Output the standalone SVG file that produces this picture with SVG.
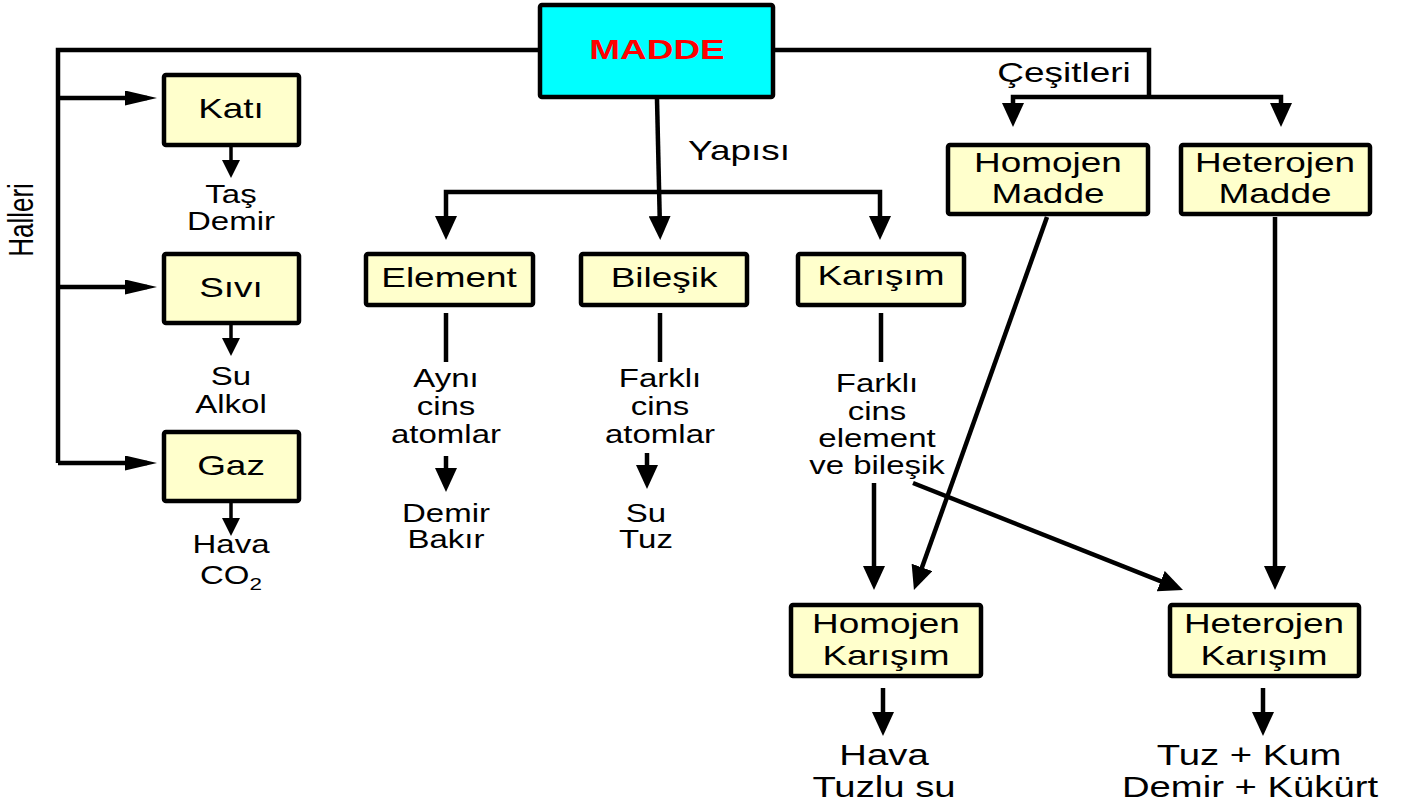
<svg xmlns="http://www.w3.org/2000/svg" width="1413" height="812" viewBox="0 0 1413 812">
<defs>
<style>
.box{fill:#FFFFCC;stroke:#000;stroke-width:4.5}
.main{fill:#00FFFF;stroke:#000;stroke-width:4.5}
.ln{fill:none;stroke:#000;stroke-width:4.5}
.sl{fill:none;stroke:#000;stroke-width:3.5}
text{font-family:"Liberation Sans",Arial,sans-serif;fill:#000;text-anchor:middle}
.bt{font-size:28px}
.st{font-size:25px}
.lt{font-size:29px}
.mt{font-size:28px;font-weight:bold;fill:#FF0000}
</style>
<marker id="ah" markerUnits="userSpaceOnUse" markerWidth="24" markerHeight="22" refX="14" refY="11" orient="auto"><path d="M0,0 L24,11 L0,22 Z" fill="#000"/></marker>
<marker id="ahL" markerUnits="userSpaceOnUse" markerWidth="32" markerHeight="16" refX="22" refY="7.5" orient="auto"><path d="M0,0 L32,7.5 L0,15 Z" fill="#000"/></marker>
<marker id="ahS" markerUnits="userSpaceOnUse" markerWidth="18" markerHeight="18" refX="11" refY="9" orient="auto"><path d="M0,0 L18,9 L0,18 Z" fill="#000"/></marker>
</defs>
<rect width="1413" height="812" fill="#fff"/>
<g id="connectors">
<path class="ln" d="M540 50 H58 V463"/>
<path class="ln" d="M58 98 H147" marker-end="url(#ahL)"/>
<path class="ln" d="M58 287 H147" marker-end="url(#ahL)"/>
<path class="ln" d="M58 463 H147" marker-end="url(#ahL)"/>
<path class="ln" d="M775 50 H1149 V97"/>
<path class="ln" d="M1149 97 H1013 V117" marker-end="url(#ah)"/>
<path class="ln" d="M1149 97 H1281 V117" marker-end="url(#ah)"/>
<path class="ln" d="M657 99 L660 230" marker-end="url(#ah)"/>
<path class="ln" d="M660 192 H446 V230" marker-end="url(#ah)"/>
<path class="ln" d="M660 192 H880 V230" marker-end="url(#ah)"/>
<path class="ln" d="M446 313 V362"/>
<path class="ln" d="M660 313 V362"/>
<path class="ln" d="M881 313 V362"/>
<path class="ln" d="M446 456 V482" marker-end="url(#ah)"/>
<path class="ln" d="M647 453 V479" marker-end="url(#ah)"/>
<path class="sl" d="M231 147 V171" marker-end="url(#ahS)"/>
<path class="sl" d="M231 325 V349" marker-end="url(#ahS)"/>
<path class="sl" d="M231 503 V529" marker-end="url(#ahS)"/>
<path class="ln" d="M874 483 V580" marker-end="url(#ah)"/>
<path class="ln" d="M1047 217 L917.3 580.6" marker-end="url(#ah)"/>
<path class="ln" d="M913 483 L1173.7 586.3" marker-end="url(#ah)"/>
<path class="ln" d="M1275 217 V580" marker-end="url(#ah)"/>
<path class="ln" d="M883 688 V726" marker-end="url(#ah)"/>
<path class="ln" d="M1263 688 V726" marker-end="url(#ah)"/>
</g>
<g id="madde">
<rect class="main" x="540" y="5" width="233" height="92" rx="2"/>
<text class="mt" y="59" transform="translate(657 0) scale(1.32 1)">MADDE</text>
</g>
<g id="halleri">
<text class="st" font-size="26" transform="translate(33 220) scale(1.32 1) rotate(-90)" style="font-size:26px">Halleri</text>
</g>
<g id="yapisi"><text class="bt" y="160" transform="translate(739 0) scale(1.32 1)">Yapısı</text></g>
<g id="cesitleri"><text class="bt" y="82" transform="translate(1064 0) scale(1.32 1)">Çeşitleri</text></g>
<g id="kati">
<rect class="box" x="164" y="75" width="135" height="70" rx="2"/>
<text class="bt" y="118" transform="translate(231 0) scale(1.32 1)">Katı</text>
</g>
<g id="kati-ex">
<text class="st" y="203" transform="translate(231 0) scale(1.32 1)">Taş</text>
<text class="st" y="230" transform="translate(231 0) scale(1.32 1)">Demir</text>
</g>
<g id="sivi">
<rect class="box" x="164" y="254" width="135" height="69" rx="2"/>
<text class="bt" y="297" transform="translate(231 0) scale(1.32 1)">Sıvı</text>
</g>
<g id="sivi-ex">
<text class="st" y="385" transform="translate(231 0) scale(1.32 1)">Su</text>
<text class="st" y="413" transform="translate(231 0) scale(1.32 1)">Alkol</text>
</g>
<g id="gaz">
<rect class="box" x="164" y="432" width="135" height="69" rx="2"/>
<text class="bt" y="475" transform="translate(231 0) scale(1.32 1)">Gaz</text>
</g>
<g id="gaz-ex">
<text class="st" y="553" transform="translate(231 0) scale(1.32 1)">Hava</text>
<text class="st" y="584" transform="translate(231 0) scale(1.32 1)">CO<tspan style="font-size:17px" dy="6">2</tspan></text>
</g>
<g id="element">
<rect class="box" x="366" y="254" width="167" height="51" rx="2"/>
<text class="bt" y="287" transform="translate(449 0) scale(1.32 1)">Element</text>
</g>
<g id="element-desc">
<text class="st" y="387" transform="translate(446 0) scale(1.32 1)">Aynı</text>
<text class="st" y="415" transform="translate(446 0) scale(1.32 1)">cins</text>
<text class="st" y="443" transform="translate(446 0) scale(1.32 1)">atomlar</text>
<text class="st" y="522" transform="translate(446 0) scale(1.32 1)">Demir</text>
<text class="st" y="548" transform="translate(446 0) scale(1.32 1)">Bakır</text>
</g>
<g id="bilesik">
<rect class="box" x="581" y="254" width="166" height="51" rx="2"/>
<text class="bt" y="287" transform="translate(664 0) scale(1.32 1)">Bileşik</text>
</g>
<g id="bilesik-desc">
<text class="st" y="387" transform="translate(660 0) scale(1.32 1)">Farklı</text>
<text class="st" y="415" transform="translate(660 0) scale(1.32 1)">cins</text>
<text class="st" y="443" transform="translate(660 0) scale(1.32 1)">atomlar</text>
<text class="st" y="522" transform="translate(646 0) scale(1.32 1)">Su</text>
<text class="st" y="548" transform="translate(646 0) scale(1.32 1)">Tuz</text>
</g>
<g id="karisim">
<rect class="box" x="798" y="254" width="166" height="51" rx="2"/>
<text class="bt" y="285" transform="translate(881 0) scale(1.32 1)">Karışım</text>
</g>
<g id="karisim-desc">
<text class="st" y="392" transform="translate(877 0) scale(1.32 1)">Farklı</text>
<text class="st" y="420" transform="translate(877 0) scale(1.32 1)">cins</text>
<text class="st" y="447" transform="translate(877 0) scale(1.32 1)">element</text>
<text class="st" y="474" transform="translate(877 0) scale(1.32 1)">ve bileşik</text>
</g>
<g id="homojen-madde">
<rect class="box" x="948" y="145" width="200" height="69" rx="2"/>
<text class="bt" y="172" transform="translate(1048 0) scale(1.32 1)">Homojen</text>
<text class="bt" y="203" transform="translate(1048 0) scale(1.32 1)">Madde</text>
</g>
<g id="heterojen-madde">
<rect class="box" x="1181" y="145" width="189" height="69" rx="2"/>
<text class="bt" y="172" transform="translate(1275 0) scale(1.32 1)">Heterojen</text>
<text class="bt" y="203" transform="translate(1275 0) scale(1.32 1)">Madde</text>
</g>
<g id="homojen-karisim">
<rect class="box" x="791" y="605" width="190" height="71" rx="2"/>
<text class="bt" y="633" transform="translate(886 0) scale(1.32 1)">Homojen</text>
<text class="bt" y="665" transform="translate(886 0) scale(1.32 1)">Karışım</text>
</g>
<g id="homojen-ex">
<text class="lt" y="765" transform="translate(884 0) scale(1.32 1)">Hava</text>
<text class="lt" y="797" transform="translate(884 0) scale(1.32 1)">Tuzlu su</text>
</g>
<g id="heterojen-karisim">
<rect class="box" x="1170" y="605" width="189" height="71" rx="2"/>
<text class="bt" y="633" transform="translate(1264 0) scale(1.32 1)">Heterojen</text>
<text class="bt" y="665" transform="translate(1264 0) scale(1.32 1)">Karışım</text>
</g>
<g id="heterojen-ex">
<text class="lt" y="765" transform="translate(1249 0) scale(1.32 1)">Tuz + Kum</text>
<text class="lt" y="797" transform="translate(1250 0) scale(1.32 1)">Demir + Kükürt</text>
</g>
</svg>
